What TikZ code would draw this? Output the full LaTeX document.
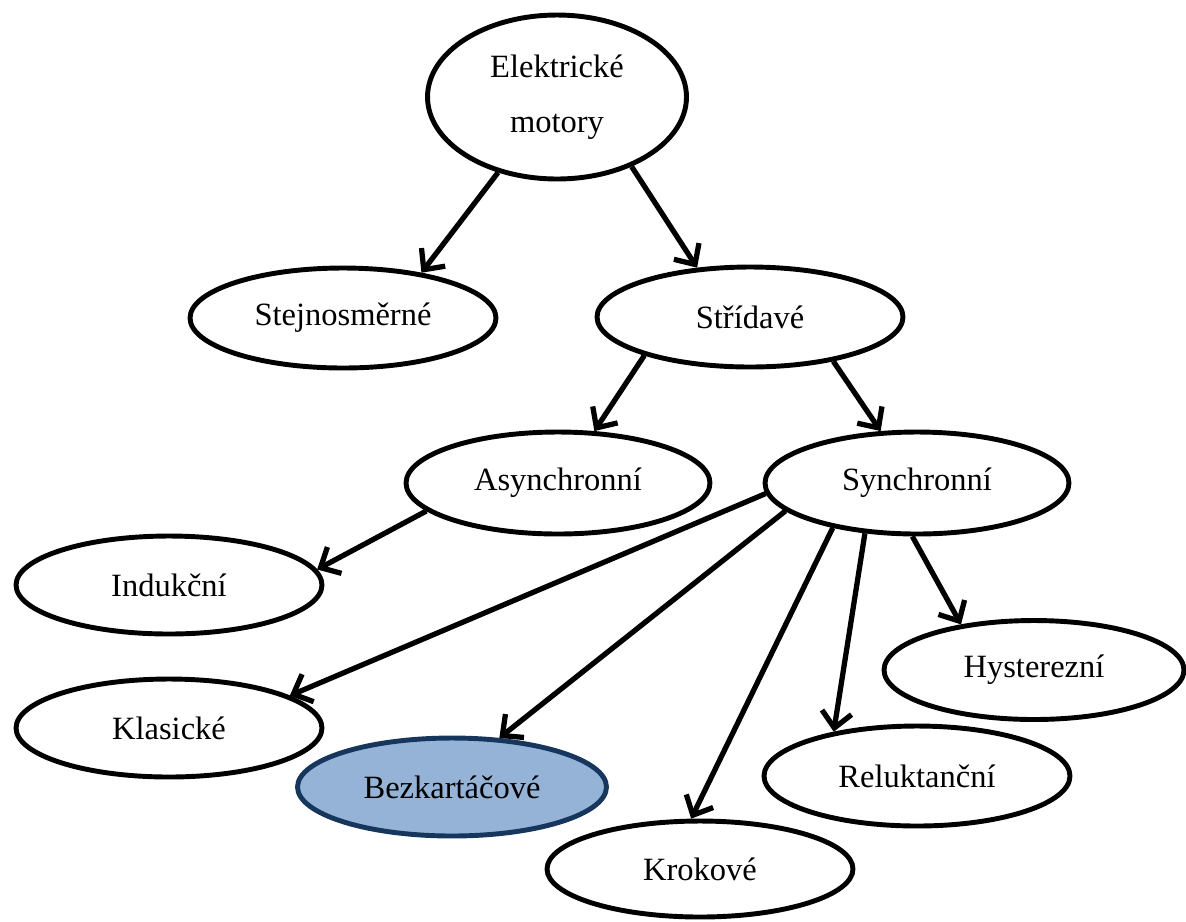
\documentclass[tikz,border=0pt]{standalone}
\usepackage{fontspec}
\setmainfont{Liberation Serif}
\usetikzlibrary{shapes.geometric,arrows.meta}
\definecolor{svetlemodra}{HTML}{95B3D7}
\definecolor{tmavemodra}{HTML}{17365D}

\begin{document}
\begin{tikzpicture}[x=0.02cm, y=-0.02cm,
		uzel/.style={draw, ellipse, line width=2.8pt, inner sep=0pt,
			minimum width=6.12cm, minimum height=2cm,
			font=\fontsize{18.5}{31}\selectfont, align=center},
		vybrany/.style={uzel, draw=tmavemodra, fill=svetlemodra},
		sipka/.style={line width=3pt, -{Straight Barb[length=9pt, width=17pt]}}]
		
		% Okraje obrazku
		\useasboundingbox (0,0) rectangle (1186,921);
		
		% Uzly stromu
		\node[uzel, minimum width=5.18cm, minimum height=3.28cm] (elm) at (557,97) {Elektrické\\motory};
		\node[uzel] (stej) at (343,318) {Stejnosměrné};
		\node[uzel] (str) at (750,317) {Střídavé};
		\node[uzel, minimum width=6.08cm, minimum height=2.04cm] (asy) at (558,483) {Asynchronní};
		\node[uzel, minimum width=6.08cm, minimum height=2.04cm] (syn) at (917,483) {Synchronní};
		\node[uzel, minimum height=1.96cm] (ind) at (169,585) {Indukční};
		\node[uzel, minimum height=1.96cm] (kla) at (169,728) {Klasické};
		\node[vybrany, minimum width=6.18cm, minimum height=1.96cm] (bez) at (452,787) {Bezkartáčové};
		\node[uzel, minimum height=1.92cm] (kro) at (700,869) {Krokové};
		\node[uzel] (rel) at (917,776) {Reluktanční};
		\node[uzel, minimum width=6cm, minimum height=1.98cm] (hys) at (1034,670) {Hysterezní};
		
		% Sipky mezi uzly
		\foreach \od/\do in {elm.232/stej.30, elm.317/str.137,
			str.200/asy.55, str.332/syn.125, asy.192/ind.6,
			syn.184/kla.15, syn.192/bez.46, syn.208/kro.100,
			syn.224/rel.152, syn.265/hys.148} {
			\draw[sipka] (\od) -- (\do);
		}
		
	\end{tikzpicture}
\end{document}
